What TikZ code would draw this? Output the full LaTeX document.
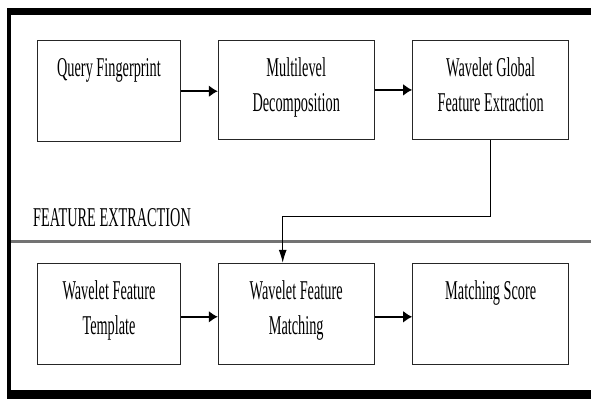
\documentclass[tikz,border=0pt]{standalone}
\usepackage{fontspec}
\setmainfont{Liberation Serif}
\usepackage{graphicx}
\usepackage{tikz}
\usetikzlibrary{arrows.meta}
\newcommand{\talltext}[1]{\scalebox{1}[1.9]{\begin{tabular}[t]{@{}c@{}}#1\end{tabular}}}
\tikzset{
    stage/.style={draw=black!85, line width=1.1pt, inner sep=0pt,
        minimum width=#1, minimum height=101pt},
    stage/.default=142.6pt,
    caption/.style={font=\fontsize{14.3}{18.4}\selectfont, inner sep=0pt, anchor=base},
    flow/.style={line width=2pt, -{Latex[length=9pt,width=12pt]}},
    feed/.style={line width=1pt, -{Latex[length=13pt,width=8pt]}}
}
\begin{document}
\begin{tikzpicture}[x=1pt,y=-1pt]
    \useasboundingbox (0,0) rectangle (591,399);
    % frame
    \fill (7,7.5) rectangle (591,15);
    \fill (7,7.5) rectangle (11,399);
    \fill (7,390) rectangle (591,399);
    \draw[line width=3.5pt, black!55] (11,241.7) -- (591,241.7);

    % feature extraction row
    \node[stage] (query) at (109,91.2) {};
    \node[stage=155.7pt, minimum height=98.3pt] (decomp) at (296.2,89.9) {};
    \node[stage=156pt, minimum height=98.3pt] (global) at (490.7,89.9) {};
    \node[caption] (queryText) at ([yshift=-36pt]query.north) {\talltext{Query Fingerprint}};
    \node[caption] (decompText) at ([yshift=-36pt]decomp.north) {\talltext{Multilevel\\Decomposition}};
    \node[caption] (globalText) at ([yshift=-36pt]global.north) {\talltext{Wavelet Global\\Feature Extraction}};

    \node[caption, anchor=base west] (phase) at (33,226) {\talltext{FEATURE EXTRACTION}};

    % matching row
    \node[stage] (template) at (109,313.8) {};
    \node[stage=155.7pt] (match) at (296.2,313.8) {};
    \node[stage=156pt] (score) at (490.7,313.8) {};
    \node[caption] (templateText) at ([yshift=-37pt]template.north) {\talltext{Wavelet Feature\\Template}};
    \node[caption] (matchText) at ([yshift=-37pt]match.north) {\talltext{Wavelet Feature\\Matching}};
    \node[caption] (scoreText) at ([yshift=-37pt]score.north) {\talltext{Matching Score}};

    % arrows
    \draw[flow] (query.east) -- (query.east -| decomp.west);
    \draw[flow] (decomp.east) -- (global.west);
    \draw[flow] ([yshift=-3pt]template.east) -- ([yshift=-3pt]match.west);
    \draw[flow] ([yshift=-3pt]match.east) -- ([yshift=-3pt]score.west);
    \coordinate (turn) at (282.7,216);
    \draw[feed] (global.south) |- (turn) -- (turn |- match.north);
\end{tikzpicture}
\end{document}
